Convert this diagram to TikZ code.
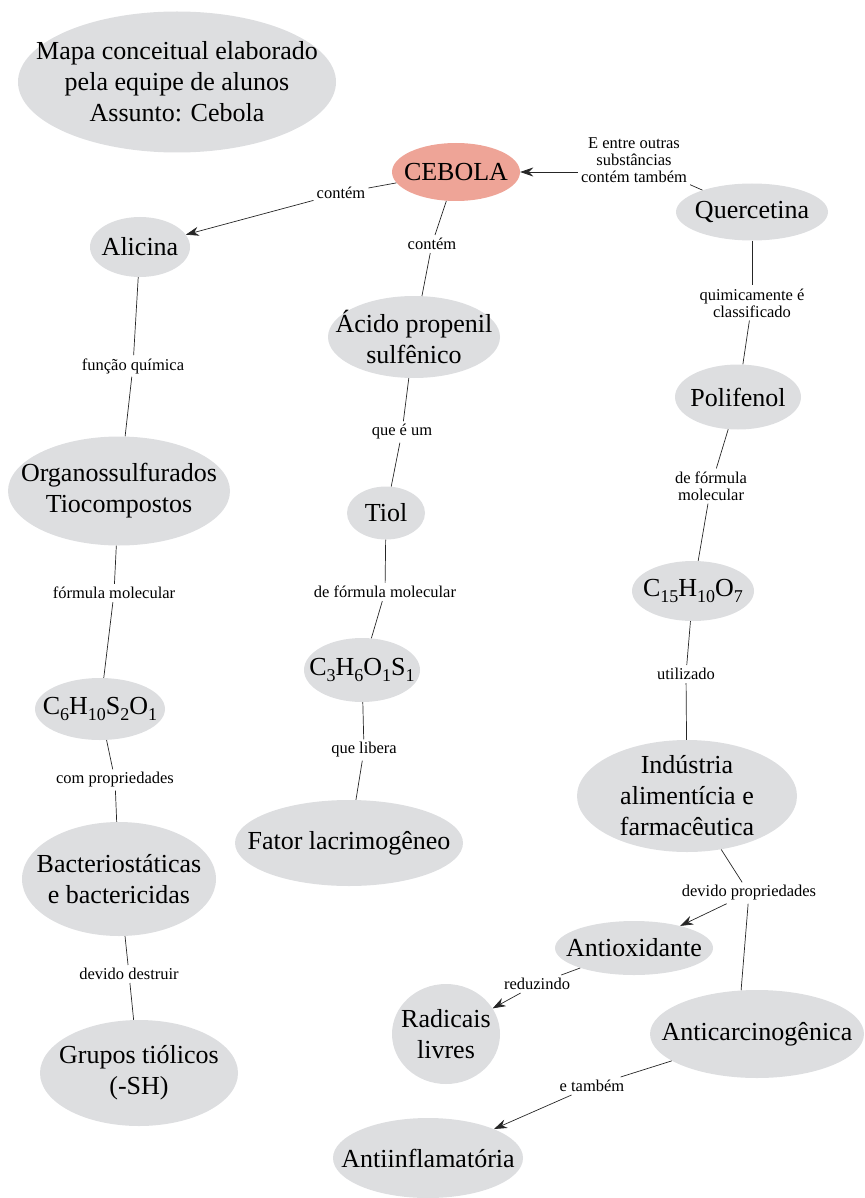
\documentclass[tikz,border=0pt]{standalone}
\usepackage{fontspec}
\setmainfont{Liberation Serif}
\usetikzlibrary{shapes.geometric,arrows.meta}

\definecolor{cmapgray}{RGB}{221,222,224}
\definecolor{cmapsalmon}{RGB}{238,164,151}
\newcommand{\chemsub}[1]{\raisebox{-0.45ex}{\fontsize{18}{18}\selectfont #1}}

\begin{document}
\begin{tikzpicture}[x=1pt,y=-1pt,
  concept/.style n args={3}{ellipse, fill=cmapgray, inner sep=0pt,
    minimum width=#1pt, minimum height=#2pt,
    label={[conceptfont]center:{#3}}},
  conceptfont/.style={align=center, inner sep=0pt,
    font=\fontsize{26}{31}\selectfont},
  linkphrase/.style={align=center, inner sep=3pt,
    font=\fontsize{16.5}{17}\selectfont},
  link/.style={draw=black!85, line width=0.7pt},
  tip/.style={-{Stealth[length=13pt,width=9pt]}}]
  \useasboundingbox (0,0) rectangle (864,1198);

  % concepts
  \node (Title) at (177,82) [concept={318}{141}{Mapa conceitual elaborado\\pela equipe de alunos\\Assunto: Cebola}] {};
  \node (Cebola) at (456,172) [concept={128}{58}{CEBOLA}, fill=cmapsalmon] {};
  \node (Alicina) at (140,247) [concept={100}{60}{Alicina}] {};
  \node (Acido) at (414,337) [concept={172}{82}{Ácido propenil\\sulfênico}] {};
  \node (Quercetina) at (752,212) [concept={152}{57}{Quercetina}] {};
  \node (Polifenol) at (738,397) [concept={126}{65}{Polifenol}] {};
  \node (Organo) at (119,491) [concept={222}{109}{Organossulfurados\\Tiocompostos}] {};
  \node (Tiol) at (386,513) [concept={78}{53}{Tiol}] {};
  \node (Quercetina formula) at (693,591)
    [concept={122}{60}{C\chemsub{15}H\chemsub{10}O\chemsub{7}}] {};
  \node (Alicina formula) at (100,709)
    [concept={130}{62}{C\chemsub{6}H\chemsub{10}S\chemsub{2}O\chemsub{1}}] {};
  \node (Tiol formula) at (362,670)
    [concept={116}{64}{C\chemsub{3}H\chemsub{6}O\chemsub{1}S\chemsub{1}}] {};
  \node (Fator) at (349,843) [concept={228}{86}{Fator lacrimogêneo}] {};
  \node (Industria) at (687,796) [concept={220}{112}{Indústria\\alimentícia e\\farmacêutica}] {};
  \node (Bacterio) at (119,879) [concept={194}{114}{Bacteriostáticas\\e bactericidas}] {};
  \node (Antioxidante) at (634,948) [concept={158}{54}{Antioxidante}] {};
  \node (Radicais) at (446,1034) [concept={108}{100}{Radicais\\livres}] {};
  \node (Anticarcino) at (757,1034) [concept={214}{88}{Anticarcinogênica}] {};
  \node (Grupos) at (139,1073) [concept={198}{106}{Grupos tiólicos\\(-SH)}] {};
  \node (Antiinflam) at (428,1158) [concept={190}{80}{Antiinflamatória}] {};

  % linking phrases
  \node (ContemA) at (341,193) [linkphrase] {contém};
  \node (ContemB) at (432,244) [linkphrase] {contém};
  \node (EntreOutras) at (634,160) [linkphrase] {E entre outras\\substâncias\\contém também};
  \node (Classificado) at (752,303) [linkphrase] {quimicamente é\\classificado};
  \node (Funcao) at (133,366) [linkphrase] {função química};
  \node (QueEUm) at (402,432) [linkphrase] {que é um};
  \node (FormulaQ) at (711,486) [linkphrase] {de fórmula\\molecular};
  \node (FormulaA) at (114,593) [linkphrase] {fórmula molecular};
  \node (FormulaT) at (385,592) [linkphrase] {de fórmula molecular};
  \node (Utilizado) at (686,674) [linkphrase] {utilizado};
  \node (Libera) at (364,750) [linkphrase] {que libera};
  \node (ComProp) at (115,780) [linkphrase] {com propriedades};
  \node (DevidoProp) at (749,893) [linkphrase] {devido propriedades};
  \node (Destruir) at (129,974) [linkphrase] {devido destruir};
  \node (Reduzindo) at (537,984) [linkphrase] {reduzindo};
  \node (Tambem) at (592,1086) [linkphrase] {e também};

  % connections
  \draw[link] (Cebola) -- (ContemA);
  \draw[link, tip] (ContemA) -- (Alicina);
  \draw[link] (Cebola) -- (ContemB);
  \draw[link] (ContemB) -- (Acido);
  \draw[link] (Quercetina) -- (EntreOutras);
  \draw[link, tip] (EntreOutras.west |- Cebola) -- (Cebola);
  \draw[link] (Quercetina) -- (Classificado);
  \draw[link] (Classificado) -- (Polifenol);
  \draw[link] (Alicina) -- (Funcao);
  \draw[link] (Funcao) -- (Organo);
  \draw[link] (Acido) -- (QueEUm);
  \draw[link] (QueEUm) -- (Tiol);
  \draw[link] (Polifenol) -- (FormulaQ);
  \draw[link] (FormulaQ) -- (Quercetina formula);
  \draw[link] (Organo) -- (FormulaA);
  \draw[link] (FormulaA) -- (Alicina formula);
  \draw[link] (Tiol) -- (FormulaT);
  \draw[link] (FormulaT) -- (Tiol formula);
  \draw[link] (Quercetina formula) -- (Utilizado);
  \draw[link] (Utilizado) -- (Industria);
  \draw[link] (Tiol formula) -- (Libera);
  \draw[link] (Libera) -- (Fator);
  \draw[link] (Alicina formula) -- (ComProp);
  \draw[link] (ComProp) -- (Bacterio);
  \draw[link] (Industria) -- (DevidoProp);
  \draw[link, tip] (DevidoProp) -- (Antioxidante);
  \draw[link] (DevidoProp) -- (Anticarcino.110);
  \draw[link] (Bacterio) -- (Destruir);
  \draw[link] (Destruir) -- (Grupos);
  \draw[link] (Antioxidante) -- (Reduzindo);
  \draw[link, tip] (Reduzindo) -- (Radicais);
  \draw[link] (Anticarcino) -- (Tambem);
  \draw[link, tip] (Tambem) -- (Antiinflam);
\end{tikzpicture}
\end{document}
